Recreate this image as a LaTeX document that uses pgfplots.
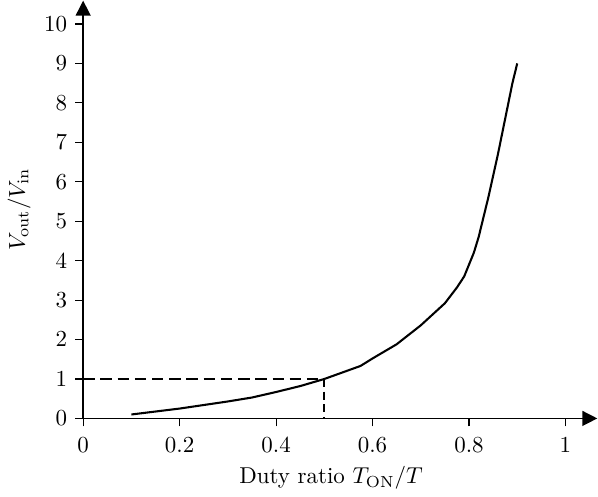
\documentclass[border=0pt]{standalone}
\usepackage{pgfplots}
\pgfplotsset{compat=1.18}
\usetikzlibrary{arrows.meta}
\begin{document}
\begin{tikzpicture}
\begin{axis}[
  scale only axis,
  width=224pt, height=182pt,
  xmin=0, xmax=1.066, ymin=0, ymax=10.59,
  axis lines=left,
  axis line style={line width=0.6pt, -{Triangle[length=6.5pt,width=6.5pt]}},
  xtick={0,0.2,0.4,0.6,0.8,1},
  xticklabels={0,0.2,0.4,0.6,0.8,1},
  ytick={0,1,...,10},
  tick align=outside,
  major tick length=3.5pt,
  tick style={line width=0.5pt, black},
  xlabel={Duty ratio $T_{\mathrm{ON}}/T$},
  ylabel={$V_{\mathrm{out}}/V_{\mathrm{in}}$},
  xlabel style={xshift=-4pt, yshift=1pt},
  ylabel style={yshift=-1pt},
  xticklabel style={yshift=-1pt},
  clip=false,
]
\addplot[black, line width=0.9pt] coordinates {
(0.1,0.10) (0.2,0.25) (0.3,0.43) (0.35,0.53) (0.4,0.67) (0.45,0.82)
(0.5,1.0) (0.55,1.22) (0.575,1.33) (0.6,1.52) (0.65,1.88) (0.7,2.36)
(0.75,2.92) (0.775,3.32) (0.79,3.6) (0.8,3.9) (0.81,4.2) (0.82,4.6)
(0.83,5.1) (0.84,5.6) (0.86,6.7) (0.88,7.9) (0.89,8.5) (0.9,9.0)
};
\addplot[black, line width=0.8pt, dash pattern=on 5pt off 2.5pt] coordinates {(0,1) (0.5,1)};
\addplot[black, line width=0.8pt, dash pattern=on 3.5pt off 2pt] coordinates {(0.5,1) (0.5,0)};
\end{axis}
\end{tikzpicture}
\end{document}
